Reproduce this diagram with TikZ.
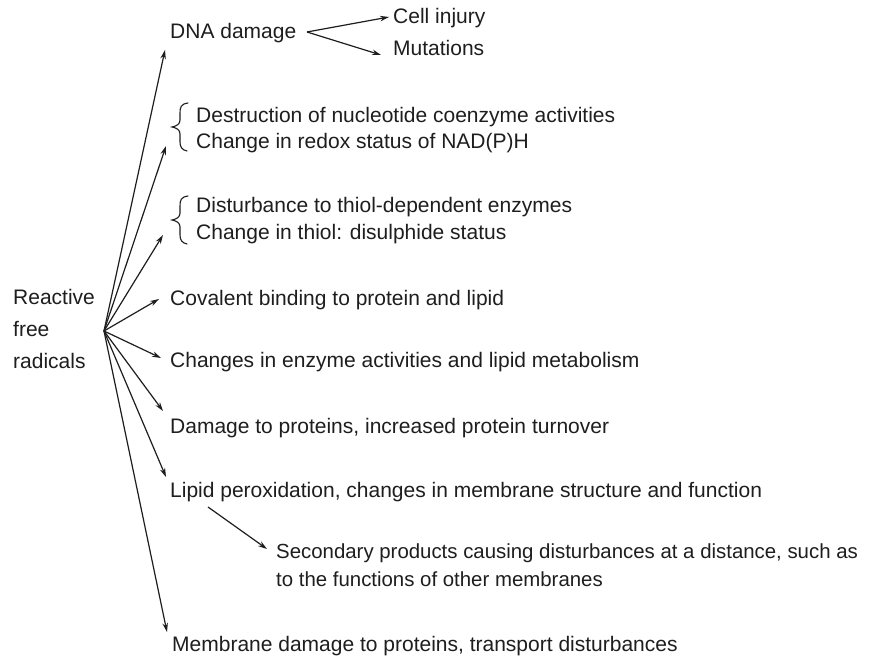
\documentclass[tikz,border=0pt]{standalone}
\usepackage{fontspec}
\setmainfont{Liberation Sans}
\usetikzlibrary{arrows.meta}
\definecolor{ink}{HTML}{1E1E1E}
\begin{document}
\begin{tikzpicture}[x=1pt,y=-1pt,
  lbl/.style={anchor=west,inner sep=0pt,text height=15pt,text depth=4pt,text=ink,
    font=\fontsize{21}{28}\selectfont},
  arr/.style={draw=ink,line width=1.2pt,-{Stealth[length=9pt,width=5.5pt]}},
  brc/.style={draw=ink,line width=1.1pt,line cap=round}]
\useasboundingbox[fill=white] (0,0) rectangle (873,660);
% source
\node[lbl,align=left,anchor=north west,text height=,text depth=,
  font=\fontsize{21}{32}\selectfont] (rfr) at (13,289)
  {Reactive\\free\\radicals};
\coordinate (o) at (104,331);
% targets
\node[lbl] (dna) at (170,33) {DNA damage};
\node[lbl] (cell) at (393,18) {Cell injury};
\node[lbl] (mut) at (393,50) {Mutations};
\node[lbl] (nuc1) at (196,117) {Destruction of nucleotide coenzyme activities};
\node[lbl] (nuc2) at (196,143) {Change in redox status of NAD(P)H};
\node[lbl] (thi1) at (196,207) {Disturbance to thiol-dependent enzymes};
\node[lbl] (thi2) at (196,234) {Change in thiol: disulphide status};
\node[lbl] (cov) at (170,300) {Covalent binding to protein and lipid};
\node[lbl] (enz) at (170,362) {Changes in enzyme activities and lipid metabolism};
\node[lbl] (dam) at (170,428) {Damage to proteins, increased protein turnover};
\node[lbl] (lip) at (170,492) {Lipid peroxidation, changes in membrane structure and function};
\node[lbl,align=left,anchor=north west,text height=,text depth=,
  font=\fontsize{20.4}{28}\selectfont] (sec) at (276,544)
  {Secondary products causing disturbances at a distance, such as\\to the functions of other membranes};
\node[lbl] (mem) at (172,646) {Membrane damage to proteins, transport disturbances};
% braces
\draw[brc] (188,103) .. controls (181,104) and (180,107) .. (180,113) -- (180,120)
  .. controls (180,124) and (177,126) .. (172,127)
  .. controls (177,128) and (180,130) .. (180,134) -- (180,142)
  .. controls (180,147) and (182,150) .. (187,151);
\draw[brc] (188,196) .. controls (181,197) and (180,200) .. (180,206) -- (180,213)
  .. controls (180,217) and (177,219) .. (172,220)
  .. controls (177,221) and (180,223) .. (180,227) -- (180,235)
  .. controls (180,240) and (182,243) .. (187,244);
% tip coordinates
\coordinate (tdna) at (165,50);
\coordinate (tnuc) at (166,146);
\coordinate (tthi) at (163,235);
\coordinate (tcov) at (159,299);
\coordinate (tenz) at (161,358);
\coordinate (tdam) at (163,411);
\coordinate (tlip) at (166,477);
\coordinate (tmem) at (167,632);
\coordinate (dsplit) at (307,32);
\coordinate (tcell) at (389,17);
\coordinate (tmut) at (381,55);
\coordinate (lsplit) at (208,507);
\coordinate (tsec) at (267,549);
% arrows
\foreach \t in {tdna,tnuc,tthi,tcov,tenz,tdam,tlip,tmem}
  \draw[arr] (o) -- (\t);
\draw[arr] (dsplit) -- (tcell);
\draw[arr] (dsplit) -- (tmut);
\draw[arr] (lsplit) -- (tsec);
\end{tikzpicture}
\end{document}
